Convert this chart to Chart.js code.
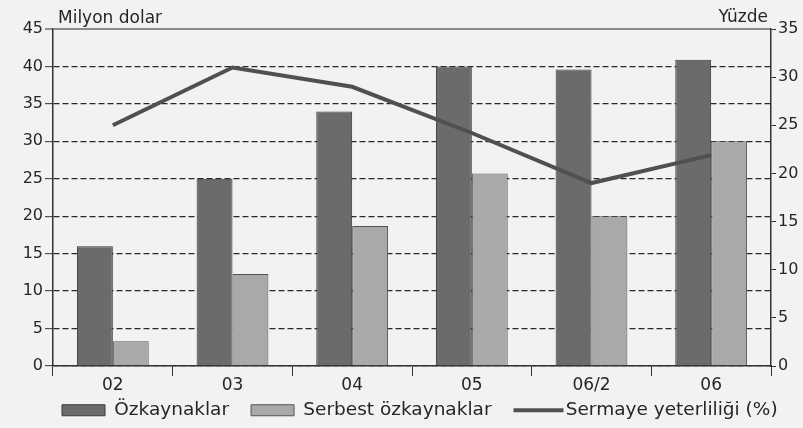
<!DOCTYPE html>
<html>
<head>
<meta charset="utf-8">
<script src="https://cdn.jsdelivr.net/npm/chart.js@4/dist/chart.umd.min.js"></script>
<style>
  html, body { margin: 0; padding: 0; background: #f2f2f2; }
  #wrap { width: 803px; height: 428px; position: relative; }
</style>
</head>
<body>
<div id="wrap"><canvas id="c" width="803" height="428"></canvas></div>
<script>
const categories = ["02", "03", "04", "05", "06/2", "06"];
const ozkaynaklar = [16, 25, 34, 40, 39.6, 40.9];
const serbestOzkaynaklar = [3.3, 12.3, 18.7, 25.7, 20, 30];
const sermayeYeterliligi = [25, 31, 29, 24.2, 19, 21.9];
const leftTicks = [0, 5, 10, 15, 20, 25, 30, 35, 40, 45];
const rightTicks = [0, 5, 10, 15, 20, 25, 30, 35];
const seriesNames = ["Özkaynaklar", "Serbest özkaynaklar", "Sermaye yeterliliği (%)"];
const axisTitles = ["Milyon dolar", "Yüzde"];

const FONT = "'DejaVu Sans', sans-serif";
const TXT = '#262626';
const LEGEND_PAD = 22;

const bgPlugin = {
  id: 'bg',
  beforeDraw(chart) {
    const ctx = chart.ctx;
    ctx.save();
    ctx.fillStyle = '#f2f2f2';
    ctx.fillRect(0, 0, chart.width, chart.height);
    ctx.restore();
  }
};

const legendPlacePlugin = {
  id: 'legendPlace',
  afterLayout(chart) {
    const lg = chart.legend;
    if (!lg) return;
    const h = lg.bottom - lg.top;
    lg.top = 379;
    lg.bottom = lg.top + h;
    const x0 = (lg.left + LEGEND_PAD + lg.right - lg.lineWidths[0]) / 2;
    const dx = 62 - x0;
    lg.left += dx;
    lg.right += dx;
  }
};

const extrasPlugin = {
  id: 'extras',
  afterDraw(chart) {
    const ctx = chart.ctx;
    const a = chart.chartArea;
    ctx.save();
    ctx.fillStyle = TXT;
    ctx.font = "17px " + FONT;
    ctx.textBaseline = 'alphabetic';
    ctx.textAlign = 'left';
    ctx.fillText(axisTitles[0], a.left + 5, 23);
    ctx.textAlign = 'right';
    ctx.fillText(axisTitles[1], a.right - 3, 22);
    const lg = chart.legend;
    const hb = lg.legendHitBoxes[2];
    if (hb) {
      const y = hb.top + hb.height / 2;
      ctx.strokeStyle = '#505050';
      ctx.lineWidth = 4;
      ctx.beginPath();
      ctx.moveTo(hb.left, y);
      ctx.lineTo(hb.left + 50, y);
      ctx.stroke();
    }
    ctx.restore();
  }
};

new Chart(document.getElementById('c'), {
  data: {
    labels: categories,
    datasets: [
      {
        type: 'line',
        label: seriesNames[2],
        data: sermayeYeterliligi,
        yAxisID: 'y1',
        borderColor: '#505050',
        backgroundColor: '#505050',
        borderWidth: 4,
        pointRadius: 0,
        tension: 0,
        order: 0
      },
      {
        type: 'bar',
        label: seriesNames[0],
        data: ozkaynaklar,
        yAxisID: 'y',
        backgroundColor: '#6b6b6b',
        borderColor: '#3a3a3a',
        borderWidth: 1,
        categoryPercentage: 0.6,
        barPercentage: 1.0,
        order: 1
      },
      {
        type: 'bar',
        label: seriesNames[1],
        data: serbestOzkaynaklar,
        yAxisID: 'y',
        backgroundColor: '#a9a9a9',
        borderColor: '#555555',
        borderWidth: 1,
        categoryPercentage: 0.6,
        barPercentage: 1.0,
        order: 1
      }
    ]
  },
  options: {
    responsive: false,
    animation: false,
    devicePixelRatio: 1,
    layout: { padding: { top: 29, left: 22, right: 2, bottom: -18.5 } },
    plugins: {
      tooltip: { enabled: false },
      legend: {
        position: 'bottom',
        labels: {
          font: { family: FONT, size: 18.5 },
          color: TXT,
          boxWidth: 43,
          boxHeight: 11,
          padding: LEGEND_PAD,
          sort: (a, b) => {
            const order = [1, 2, 0];
            return order.indexOf(a.datasetIndex) - order.indexOf(b.datasetIndex);
          },
          generateLabels(chart) {
            const items = Chart.defaults.plugins.legend.labels.generateLabels(chart);
            items.forEach(it => {
              if (it.datasetIndex === 0) {
                it.fillStyle = 'rgba(0,0,0,0)';
                it.strokeStyle = 'rgba(0,0,0,0)';
                it.lineWidth = 0;
              }
            });
            return items;
          }
        }
      }
    },
    scales: {
      x: {
        offset: true,
        grid: {
          offset: true,
          drawOnChartArea: false,
          drawTicks: true,
          tickLength: 10,
          color: '#333',
          lineWidth: 1
        },
        border: { display: true, color: '#333', width: 1.5 },
        ticks: { font: { family: FONT, size: 17 }, color: TXT, padding: -1 },
        afterFit(scale) { scale.height = 30; }
      },
      y: {
        position: 'left',
        min: 0,
        max: 45,
        afterBuildTicks(scale) { scale.ticks = leftTicks.map(v => ({ value: v })); },
        grid: {
          color: ctx => (ctx.tick && ctx.tick.value === 45) ? '#8a8a8a' : '#2a2a2a',
          lineWidth: ctx => (ctx.tick && ctx.tick.value === 45) ? 2 : 1.3,
          tickColor: '#333',
          tickWidth: 1,
          tickLength: 8,
          drawTicks: true
        },
        border: {
          display: true,
          color: '#333',
          width: 1.5,
          dash: ctx => (ctx.tick && ctx.tick.value === 45) ? [] : [6, 3]
        },
        ticks: { font: { family: FONT, size: 16 }, color: TXT, padding: 2 },
        afterFit(scale) { scale.width = 31; }
      },
      y1: {
        position: 'right',
        min: 0,
        max: 35,
        afterBuildTicks(scale) { scale.ticks = rightTicks.map(v => ({ value: v })); },
        grid: {
          drawOnChartArea: false,
          drawTicks: true,
          tickLength: 5,
          color: '#333'
        },
        border: { display: true, color: '#333', width: 1.5 },
        ticks: { font: { family: FONT, size: 16 }, color: TXT, padding: 2 },
        afterFit(scale) { scale.width = 30; }
      }
    }
  },
  plugins: [bgPlugin, legendPlacePlugin, extrasPlugin]
});
</script>
</body>
</html>
